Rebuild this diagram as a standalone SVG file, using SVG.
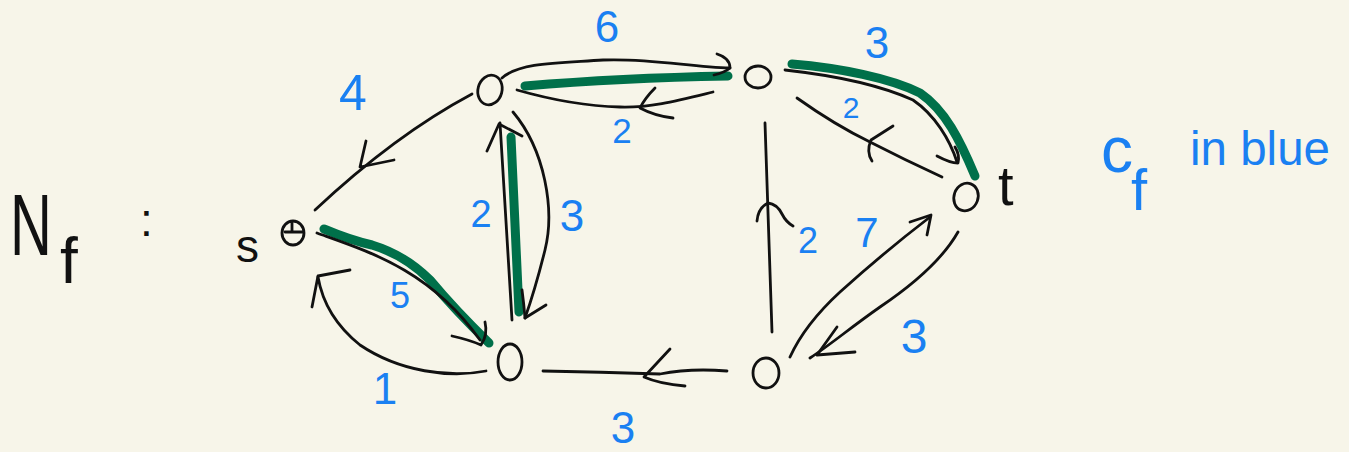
<svg xmlns="http://www.w3.org/2000/svg" width="1349" height="452" viewBox="0 0 1349 452">
  <style>
    .ink { fill: none; stroke: #111111; stroke-width: 2.8; stroke-linecap: round; stroke-linejoin: round; }
    .path { fill: none; stroke: #00704a; stroke-width: 9; stroke-linecap: round; stroke-linejoin: round; }
    .node { fill: none; stroke: #111111; stroke-width: 2.8; }
    .cap { font-family: "Liberation Sans", Arial, sans-serif; fill: #1a80f2; text-anchor: middle; }
    .name { font-family: "Liberation Sans", Arial, sans-serif; fill: #111111; }
    .note { font-family: "Liberation Sans", Arial, sans-serif; fill: #1a80f2; }
  </style>
  <rect width="1349" height="452" fill="#f7f5e9"/>

  <!-- title: residual network N_f -->
  <g id="title">
    <text class="name" x="0" y="0" font-size="58" transform="translate(10 255) scale(1 1.5)">N</text>
    <text class="name" x="60" y="283" font-size="64">f</text>
    <text class="name" x="140" y="236" font-size="46">:</text>
  </g>

  <!-- legend: residual capacities in blue -->
  <g id="legend">
    <text class="note" x="1101" y="172" font-size="64">c</text>
    <text class="note" x="1131" y="210" font-size="58">f</text>
    <text class="note" x="1190" y="165" font-size="48" textLength="140" lengthAdjust="spacingAndGlyphs">in blue</text>
  </g>

  <!-- connectors -->
  <g id="connectors">
    <!-- augmenting path s -> a -> b -> c -> t -->
    <path class="path" d="M324 229 Q350 240 372 245 Q405 255 430 280 Q455 310 489 343"/>
    <path class="path" d="M519 312 L511 137"/>
    <path class="path" d="M525 86 Q620 78 728 76"/>
    <path class="path" d="M792 64 C840 68 890 78 920 93 C945 110 960 140 975 176"/>

    <!-- u -> s (4) -->
    <path class="ink" d="M472 94 Q395 135 315 210"/>
    <path class="ink" d="M366 141 L360 167 L394 160"/>

    <!-- s -> a (5) -->
    <path class="ink" d="M317 233 C370 252 430 270 480 340"/>
    <path class="ink" d="M452 336 Q470 340 481 345 Q488 335 485 322"/>

    <!-- a -> s (1) -->
    <path class="ink" d="M486 371 C450 378 400 372 360 345 C335 325 322 300 318 277"/>
    <path class="ink" d="M312 307 L318 276 L350 270"/>

    <!-- a -> u (2) -->
    <path class="ink" d="M512 320 L500 123"/>
    <path class="ink" d="M487 151 L499 124 L522 136"/>

    <!-- u -> a (3) -->
    <path class="ink" d="M513 112 C545 150 555 210 545 250 Q535 290 525 318"/>
    <path class="ink" d="M522 290 Q524 305 525 318 L546 305"/>

    <!-- u -> b (6) -->
    <path class="ink" d="M502 78 C520 62 560 63 603 60 C650 58 690 67 730 68"/>
    <path class="ink" d="M717 54 Q730 58 730 68 Q724 73 714 75"/>

    <!-- b -> u (2) -->
    <path class="ink" d="M713 92 C680 100 650 108 620 107 C580 106 545 98 517 90"/>
    <path class="ink" d="M655 88 Q645 98 640 108 Q655 116 673 118"/>

    <!-- b -> t (3) -->
    <path class="ink" d="M785 70 C830 75 880 85 913 100 C935 115 950 140 957 162"/>
    <path class="ink" d="M937 156 Q950 163 958 163 Q960 155 955 147"/>

    <!-- t -> b (2) -->
    <path class="ink" d="M797 98 Q835 125 870 142 Q905 160 942 177"/>
    <path class="ink" d="M893 126 L871 140 Q866 152 872 161"/>

    <!-- v -> b (2) -->
    <path class="ink" d="M765 123 L772 332"/>
    <path class="ink" d="M757 221 Q758 208 768 203 Q777 204 782 214 Q786 222 793 226"/>

    <!-- v -> t (7) -->
    <path class="ink" d="M790 357 C800 335 815 315 840 292 C870 265 900 240 930 217"/>
    <path class="ink" d="M910 222 L931 215 L927 235"/>

    <!-- t -> v (3) -->
    <path class="ink" d="M958 232 C945 255 920 280 880 307 C850 328 830 345 810 358"/>
    <path class="ink" d="M837 327 L817 355 L855 352"/>

    <!-- v -> a (3) -->
    <path class="ink" d="M727 371 Q690 368 660 374 Q600 372 543 371"/>
    <path class="ink" d="M670 349 L644 377 Q660 384 685 386"/>
  </g>

  <!-- capacities -->
  <g id="capacities">
    <text class="cap" x="353" y="110" font-size="50">4</text>
    <text class="cap" x="400" y="308" font-size="36">5</text>
    <text class="cap" x="385" y="404" font-size="44">1</text>
    <text class="cap" x="481" y="227" font-size="38">2</text>
    <text class="cap" x="572" y="231" font-size="44">3</text>
    <text class="cap" x="607" y="42" font-size="44">6</text>
    <text class="cap" x="622" y="143" font-size="35">2</text>
    <text class="cap" x="877" y="58" font-size="44">3</text>
    <text class="cap" x="851" y="118" font-size="30">2</text>
    <text class="cap" x="808" y="253" font-size="36">2</text>
    <text class="cap" x="867" y="247" font-size="42">7</text>
    <text class="cap" x="914" y="353" font-size="48">3</text>
    <text class="cap" x="623" y="443" font-size="44">3</text>
  </g>

  <!-- nodes -->
  <g id="node-s">
    <ellipse class="node" cx="293" cy="233" rx="11" ry="12"/>
    <path class="ink" d="M292 222 L292 232 M285 232 L303 232"/>
    <text class="name" x="236" y="262" font-size="46">s</text>
  </g>
  <g id="node-u">
    <ellipse class="node" cx="490" cy="90" rx="12" ry="15" transform="rotate(15 490 90)"/>
  </g>
  <g id="node-b">
    <ellipse class="node" cx="758" cy="77" rx="13" ry="11"/>
  </g>
  <g id="node-t">
    <ellipse class="node" cx="966" cy="197" rx="12" ry="14" transform="rotate(20 966 197)"/>
    <text class="name" x="998" y="205" font-size="56">t</text>
  </g>
  <g id="node-a">
    <ellipse class="node" cx="510" cy="362" rx="12" ry="18"/>
  </g>
  <g id="node-v">
    <ellipse class="node" cx="766" cy="373" rx="13" ry="15"/>
  </g>
</svg>
